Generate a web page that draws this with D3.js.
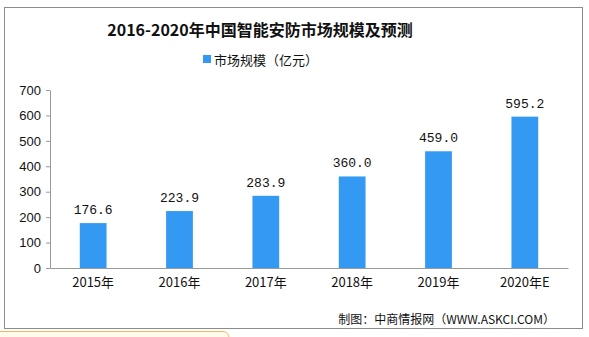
<!DOCTYPE html>
<html>
<head>
<meta charset="utf-8">
<script src="https://cdn.jsdelivr.net/npm/d3@7"></script>
<style>
  body { margin: 0; background: #fff; }
</style>
</head>
<body>
<script>
// 数据
let years = ["2015年", "2016年", "2017年", "2018年", "2019年", "2020年E"];
let values = [176.6, 223.9, 283.9, 360.0, 459.0, 595.2];
let yTicks = [0, 100, 200, 300, 400, 500, 600, 700];

let width = 589;
let height = 337;
let plotLeft = 50, plotRight = 568, plotTop = 90, plotBottom = 268;
let cjk = "'Noto Sans CJK SC', 'Liberation Sans', sans-serif";

let svg = d3.select("body")
    .append("svg")
    .attr("width", width)
    .attr("height", height);

// 外框
svg.append("rect")
    .attr("x", 4.5).attr("y", 7.5)
    .attr("width", 578).attr("height", 321)
    .attr("fill", "#fff")
    .attr("stroke", "#8c8c8c");

// 左下角的橙色框
svg.append("rect")
    .attr("x", -10).attr("y", 331.5)
    .attr("width", 239).attr("height", 20)
    .attr("rx", 6)
    .attr("fill", "#fffbea")
    .attr("stroke", "#f3b764");

let x = d3.scaleBand()
    .domain(years)
    .range([plotLeft, plotRight])
    .paddingInner(0.69)
    .paddingOuter(0.345);

let y = d3.scaleLinear()
    .domain([0, 700])
    .range([plotBottom, plotTop]);

// 纵轴
let axisY = d3.axisLeft(y).tickValues(yTicks).tickSize(4).tickSizeOuter(0);
let gy = svg.append("g")
    .attr("transform", `translate(${plotLeft}, 0)`)
    .call(axisY);
gy.select(".domain").attr("stroke", "#999");
gy.selectAll(".tick line").attr("stroke", "#999");
gy.selectAll(".tick text")
    .attr("x", -9)
    .attr("fill", "#111")
    .style("font-family", "'Liberation Sans', sans-serif")
    .style("font-size", "13px");

// 柱子
svg.selectAll(".bar")
    .data(values)
    .enter()
    .append("rect")
    .attr("class", "bar")
    .attr("x", (d, i) => x(years[i]))
    .attr("y", d => y(d))
    .attr("width", x.bandwidth())
    .attr("height", d => y(0) - y(d))
    .attr("fill", "#3399f3");

// 数值标签
svg.selectAll(".val")
    .data(values)
    .enter()
    .append("text")
    .attr("x", (d, i) => x(years[i]) + x.bandwidth() / 2)
    .attr("y", d => y(d) - 9)
    .attr("text-anchor", "middle")
    .attr("fill", "#111")
    .style("font-family", "'Liberation Mono', monospace")
    .style("font-size", "13px")
    .text(d => d.toFixed(1));

// 横轴
let axisX = d3.axisBottom(x).tickSize(0).tickSizeOuter(0);
let gx = svg.append("g")
    .attr("transform", `translate(0, ${plotBottom})`)
    .call(axisX);
gx.select(".domain").attr("stroke", "#999");
gx.selectAll(".tick text")
    .attr("dy", "1.25em")
    .attr("fill", "#111")
    .style("font-family", cjk)
    .style("font-size", "13px");

// 标题
svg.append("text")
    .attr("x", 260).attr("y", 36)
    .attr("text-anchor", "middle")
    .attr("fill", "#111")
    .style("font-family", "'Noto Sans CJK SC', 'Liberation Serif', serif")
    .style("font-weight", "bold")
    .style("font-size", "16px")
    .text("2016-2020年中国智能安防市场规模及预测");

// 图例
svg.append("rect")
    .attr("x", 203).attr("y", 55)
    .attr("width", 8).attr("height", 8)
    .attr("fill", "#3399f3");
svg.append("text")
    .attr("x", 214).attr("y", 65)
    .attr("fill", "#111")
    .style("font-family", cjk)
    .style("font-size", "13px")
    .text("市场规模（亿元）");

// 来源
svg.append("text")
    .attr("x", 555).attr("y", 324)
    .attr("text-anchor", "end")
    .attr("fill", "#111")
    .style("font-family", cjk)
    .style("font-size", "12px")
    .text("制图：中商情报网（WWW.ASKCI.COM）");
</script>
</body>
</html>
